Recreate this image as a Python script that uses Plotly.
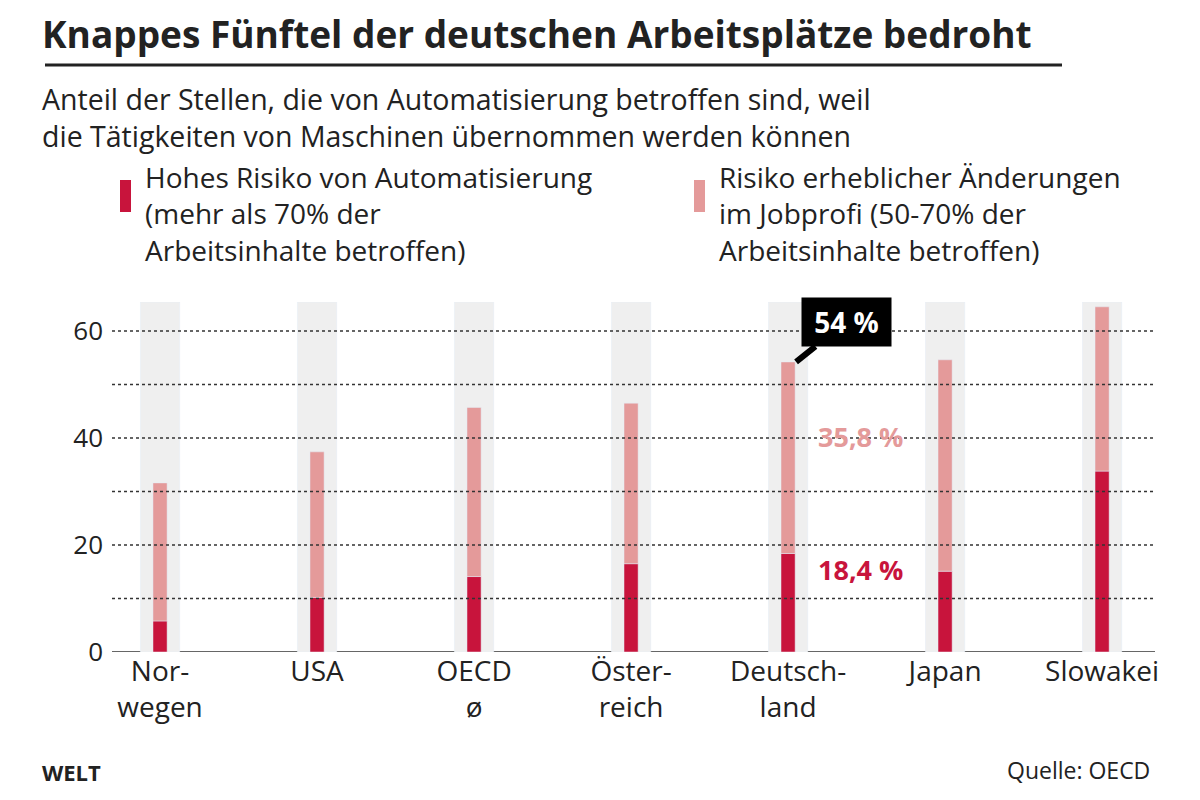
import plotly.graph_objects as go

cats = ["Nor-<br>wegen", "USA", "OECD<br>ø", "Öster-<br>reich", "Deutsch-<br>land", "Japan", "Slowakei"]
high = [5.8, 10.2, 14.1, 16.5, 18.4, 15.1, 33.8]
change = [25.8, 27.2, 31.6, 30.0, 35.8, 39.5, 30.7]
ymax = 65.4
DARK = "#c8143c"
LIGHT = "#e49a9a"
F = "Open Sans"
L, R, T, B = 104, 53, 294, 156
O = 8
PW, PH = 1200 - L - R, 800 - T - B

def px(x): return (x - O - L) / PW
def py(y): return (800 - B - (y - O)) / PH

fig = go.Figure()
fig.add_bar(x=cats, y=[ymax]*len(cats), width=0.25, marker_color="#efefef", hoverinfo="skip")
fig.add_bar(x=cats, y=high, width=0.09, marker_color=DARK)
fig.add_bar(x=cats, y=change, base=high, width=0.09, marker_color=LIGHT)

fig.update_layout(
    width=1200, height=800, barmode="overlay", showlegend=False,
    plot_bgcolor="white", paper_bgcolor="white",
    margin=dict(l=L, r=R, t=T, b=B),
    font=dict(family=F, color="#222", size=22),
    xaxis=dict(showgrid=False, ticks="", tickfont=dict(size=28, color="#222"), range=[-0.306, 6.337]),
    yaxis=dict(range=[0, ymax], tickvals=[0, 20, 40, 60], showgrid=False, zeroline=False,
               tickfont=dict(size=26, color="#222"), ticklabelstandoff=8),
)
for v in [0, 10, 20, 30, 40, 50, 60]:
    fig.add_hline(y=v, line=dict(color="#333", width=1.5, dash="solid" if v == 0 else "dot"), layer="above" if v else "below")

ann = [
    dict(text="<b>Knappes Fünftel der deutschen Arbeitsplätze bedroht</b>", x=40, y=33, size=37),
    dict(text="Anteil der Stellen, die von Automatisierung betroffen sind, weil<br>die Tätigkeiten von Maschinen übernommen werden können", x=40, y=117, size=28.5),
    dict(text="Hohes Risiko von Automatisierung<br>(mehr als 70% der<br>Arbeitsinhalte betroffen)", x=143, y=213, size=28),
    dict(text="Risiko erheblicher Änderungen<br>im Jobprofi (50-70% der<br>Arbeitsinhalte betroffen)", x=717, y=213, size=28),
    dict(text="<b>WELT</b>", x=40, y=772, size=22),
]
for a in ann:
    fig.add_annotation(text=a["text"], xref="paper", yref="paper", x=px(a["x"]), y=py(a["y"]),
                       xanchor="left", yanchor="middle", showarrow=False, align="left",
                       font=dict(size=a["size"], family=F, color="#222"))
fig.add_annotation(text="Quelle: OECD", xref="paper", yref="paper", x=px(1152), y=py(770),
                   xanchor="right", yanchor="middle", showarrow=False, font=dict(size=23, family=F, color="#222"))
fig.add_shape(type="line", xref="paper", yref="paper", x0=px(45), x1=px(1062), y0=py(65), y1=py(65),
              line=dict(color="#222", width=3))
for x, c in [(120, DARK), (694, LIGHT)]:
    fig.add_shape(type="rect", xref="paper", yref="paper", x0=px(x), x1=px(x+11), y0=py(212), y1=py(180),
                  fillcolor=c, line_width=0)

fig.add_annotation(x=cats[4], y=high[4]+change[4], text="<b> 54 % </b>", showarrow=True, arrowhead=0,
                   ax=50, ay=-40, bgcolor="black", font=dict(color="white", size=28, family=F),
                   arrowcolor="black", arrowwidth=6, xshift=8, borderpad=5)
fig.add_annotation(x=cats[4], y=high[4]+change[4]/2+4, text="<b>35,8 %</b>", showarrow=False, xshift=72,
                   font=dict(color=LIGHT, size=27, family=F))
fig.add_annotation(x=cats[4], y=high[4]-3, text="<b>18,4 %</b>", showarrow=False, xshift=72,
                   font=dict(color=DARK, size=27, family=F))
fig.write_html("out.html")
